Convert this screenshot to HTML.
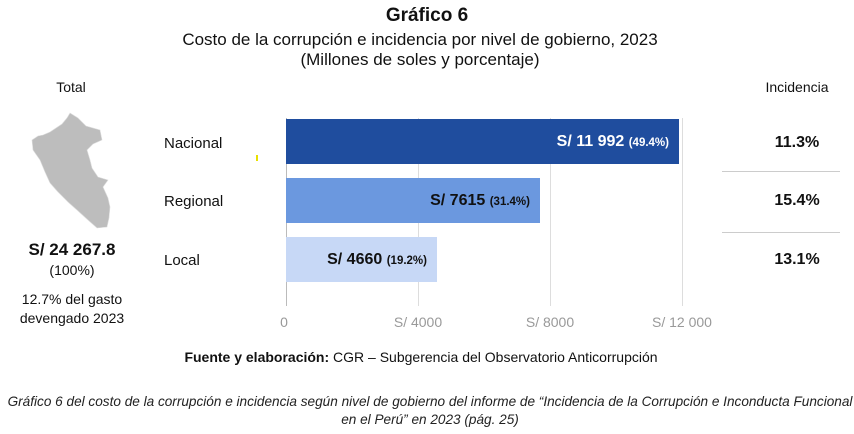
<!DOCTYPE html>
<html><head><meta charset="utf-8"><style>
body{margin:0;width:854px;height:434px;background:#fff;position:relative;overflow:hidden;font-family:"Liberation Sans",Arial,sans-serif;color:#111}
.a{position:absolute;white-space:nowrap}
.c{transform:translateX(-50%);text-align:center}
.bar{position:absolute;left:286px;height:45px}
.bl{position:absolute;right:10px;top:14px;font-weight:bold;font-size:16px}
.bl small{font-size:11.5px}
.tk{position:absolute;top:314px;font-size:14px;color:#999;transform:translateX(-50%)}
.gl{position:absolute;top:118px;height:188px;width:1px;background:#ddd}
.inc{position:absolute;left:797px;transform:translateX(-50%);font-weight:bold;font-size:16px}
</style></head><body>
<div class="a c" style="left:427px;top:5px;font-size:19px;font-weight:bold">Gráfico 6</div>
<div class="a c" style="left:420px;top:30px;font-size:17px;line-height:20px">Costo de la corrupción e incidencia por nivel de gobierno, 2023<br>(Millones de soles y porcentaje)</div>
<div class="a c" style="left:71px;top:79px;font-size:14px">Total</div>
<div class="a c" style="left:797px;top:79px;font-size:14px">Incidencia</div>
<svg class="a" style="left:0;top:0" width="130" height="240"><polygon fill="#bdbdbd" stroke="#ddd" stroke-width="0.6" points="70,113 78,118 86,126 100,130 102,140 93,144 87,150 90,160 92,168 98,177 108,180 103,187 108,198 110,207 109,218 107,227 97,228 88,220 77,210 68,202 58,192 50,183 45,172 40,160 33,150 32,140 38,136 43,135 50,132 56,128 62,124 67,118"/></svg>
<div class="a c" style="left:72px;top:240px;font-size:17px;font-weight:bold">S/ 24 267.8</div>
<div class="a c" style="left:72px;top:262px;font-size:14px">(100%)</div>
<div class="a c" style="left:72px;top:290px;font-size:14px;line-height:19px">12.7% del gasto<br>devengado 2023</div>
<div class="a" style="left:164px;top:135px;font-size:15px">Nacional</div>
<div class="a" style="left:164px;top:193px;font-size:15px">Regional</div>
<div class="a" style="left:164px;top:252px;font-size:15px">Local</div>
<div class="a" style="left:256px;top:155px;width:2px;height:6px;background:#e8e000"></div>
<div class="gl" style="left:418px"></div><div class="gl" style="left:550px"></div><div class="gl" style="left:682px"></div>
<div class="gl" style="left:286px;background:#bbb"></div>
<div class="bar" style="top:119px;width:393px;background:#1f4d9e"><span class="bl" style="color:#fff">S/ 11 992 <small>(49.4%)</small></span></div>
<div class="bar" style="top:178px;width:254px;background:#6b98df"><span class="bl">S/ 7615 <small>(31.4%)</small></span></div>
<div class="bar" style="top:237px;width:151px;background:#c7d8f6"><span class="bl">S/ 4660 <small>(19.2%)</small></span></div>
<div class="tk" style="left:284px">0</div><div class="tk" style="left:418px">S/ 4000</div><div class="tk" style="left:550px">S/ 8000</div><div class="tk" style="left:682px">S/ 12 000</div>
<div class="inc" style="top:134px">11.3%</div>
<div class="inc" style="top:192px">15.4%</div>
<div class="inc" style="top:251px">13.1%</div>
<div class="a" style="left:722px;top:171px;width:118px;height:1px;background:#ccc"></div>
<div class="a" style="left:722px;top:232px;width:118px;height:1px;background:#ccc"></div>
<div class="a c" style="left:421px;top:349px;font-size:14px">
<b>Fuente y elaboración:</b> CGR – Subgerencia del Observatorio Anticorrupción</div>
<div class="a c" style="left:430px;top:393px;font-size:13.6px;font-style:italic;line-height:18px;color:#222">Gráfico 6 del costo de la corrupción e incidencia según nivel de gobierno del informe de “Incidencia de la Corrupción e Inconducta Funcional<br>en el Perú” en 2023 (pág. 25)</div>
</body></html>
